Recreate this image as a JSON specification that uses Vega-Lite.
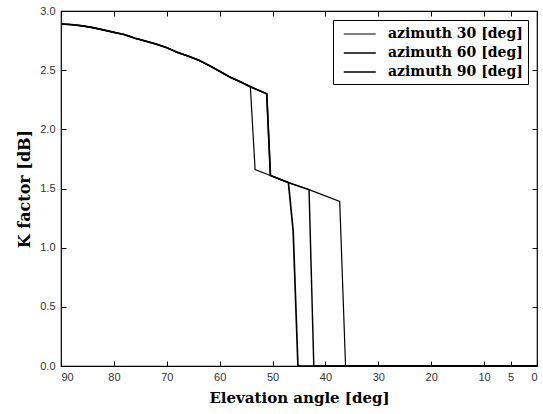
{
  "$schema": "https://vega.github.io/schema/vega-lite/v6.json",
  "autosize": "none",
  "width": 476,
  "height": 355,
  "padding": {"left": 61, "top": 11, "right": 6, "bottom": 48},
  "background": "white",
  "config": {
    "view": {"stroke": "black", "strokeWidth": 1.2},
    "axis": {
      "grid": false,
      "domain": false,
      "tickColor": "black",
      "tickSize": -5,
      "labelFont": "Liberation Sans",
      "labelFontSize": 11,
      "labelColor": "#333333",
      "titleFont": "DejaVu Serif",
      "titleFontSize": 16,
      "titleFontWeight": "bold",
      "titleColor": "black"
    }
  },
  "data": {
    "values": [
      {"az": "azimuth 30 [deg]", "angle": 90, "k": 2.89},
      {"az": "azimuth 30 [deg]", "angle": 88, "k": 2.885},
      {"az": "azimuth 30 [deg]", "angle": 86, "k": 2.875},
      {"az": "azimuth 30 [deg]", "angle": 84, "k": 2.86},
      {"az": "azimuth 30 [deg]", "angle": 82, "k": 2.84},
      {"az": "azimuth 30 [deg]", "angle": 80, "k": 2.82},
      {"az": "azimuth 30 [deg]", "angle": 78, "k": 2.8},
      {"az": "azimuth 30 [deg]", "angle": 76, "k": 2.77},
      {"az": "azimuth 30 [deg]", "angle": 74, "k": 2.745},
      {"az": "azimuth 30 [deg]", "angle": 72, "k": 2.72},
      {"az": "azimuth 30 [deg]", "angle": 70, "k": 2.69},
      {"az": "azimuth 30 [deg]", "angle": 68, "k": 2.65},
      {"az": "azimuth 30 [deg]", "angle": 66, "k": 2.62},
      {"az": "azimuth 30 [deg]", "angle": 64, "k": 2.585},
      {"az": "azimuth 30 [deg]", "angle": 62, "k": 2.54},
      {"az": "azimuth 30 [deg]", "angle": 60, "k": 2.49},
      {"az": "azimuth 30 [deg]", "angle": 58, "k": 2.44},
      {"az": "azimuth 30 [deg]", "angle": 56, "k": 2.4},
      {"az": "azimuth 30 [deg]", "angle": 54.2, "k": 2.36},
      {"az": "azimuth 30 [deg]", "angle": 53.3, "k": 1.66},
      {"az": "azimuth 30 [deg]", "angle": 50.4, "k": 1.61},
      {"az": "azimuth 30 [deg]", "angle": 47.0, "k": 1.55},
      {"az": "azimuth 30 [deg]", "angle": 43.1, "k": 1.49},
      {"az": "azimuth 30 [deg]", "angle": 37.3, "k": 1.39},
      {"az": "azimuth 30 [deg]", "angle": 36.2, "k": 0},
      {"az": "azimuth 30 [deg]", "angle": 0, "k": 0},
      {"az": "azimuth 60 [deg]", "angle": 90, "k": 2.89},
      {"az": "azimuth 60 [deg]", "angle": 88, "k": 2.885},
      {"az": "azimuth 60 [deg]", "angle": 86, "k": 2.875},
      {"az": "azimuth 60 [deg]", "angle": 84, "k": 2.86},
      {"az": "azimuth 60 [deg]", "angle": 82, "k": 2.84},
      {"az": "azimuth 60 [deg]", "angle": 80, "k": 2.82},
      {"az": "azimuth 60 [deg]", "angle": 78, "k": 2.8},
      {"az": "azimuth 60 [deg]", "angle": 76, "k": 2.77},
      {"az": "azimuth 60 [deg]", "angle": 74, "k": 2.745},
      {"az": "azimuth 60 [deg]", "angle": 72, "k": 2.72},
      {"az": "azimuth 60 [deg]", "angle": 70, "k": 2.69},
      {"az": "azimuth 60 [deg]", "angle": 68, "k": 2.65},
      {"az": "azimuth 60 [deg]", "angle": 66, "k": 2.62},
      {"az": "azimuth 60 [deg]", "angle": 64, "k": 2.585},
      {"az": "azimuth 60 [deg]", "angle": 62, "k": 2.54},
      {"az": "azimuth 60 [deg]", "angle": 60, "k": 2.49},
      {"az": "azimuth 60 [deg]", "angle": 58, "k": 2.44},
      {"az": "azimuth 60 [deg]", "angle": 56, "k": 2.4},
      {"az": "azimuth 60 [deg]", "angle": 54.2, "k": 2.36},
      {"az": "azimuth 60 [deg]", "angle": 51.1, "k": 2.3},
      {"az": "azimuth 60 [deg]", "angle": 50.4, "k": 1.61},
      {"az": "azimuth 60 [deg]", "angle": 47.0, "k": 1.55},
      {"az": "azimuth 60 [deg]", "angle": 43.1, "k": 1.49},
      {"az": "azimuth 60 [deg]", "angle": 42.2, "k": 0},
      {"az": "azimuth 60 [deg]", "angle": 0, "k": 0},
      {"az": "azimuth 90 [deg]", "angle": 90, "k": 2.89},
      {"az": "azimuth 90 [deg]", "angle": 88, "k": 2.885},
      {"az": "azimuth 90 [deg]", "angle": 86, "k": 2.875},
      {"az": "azimuth 90 [deg]", "angle": 84, "k": 2.86},
      {"az": "azimuth 90 [deg]", "angle": 82, "k": 2.84},
      {"az": "azimuth 90 [deg]", "angle": 80, "k": 2.82},
      {"az": "azimuth 90 [deg]", "angle": 78, "k": 2.8},
      {"az": "azimuth 90 [deg]", "angle": 76, "k": 2.77},
      {"az": "azimuth 90 [deg]", "angle": 74, "k": 2.745},
      {"az": "azimuth 90 [deg]", "angle": 72, "k": 2.72},
      {"az": "azimuth 90 [deg]", "angle": 70, "k": 2.69},
      {"az": "azimuth 90 [deg]", "angle": 68, "k": 2.65},
      {"az": "azimuth 90 [deg]", "angle": 66, "k": 2.62},
      {"az": "azimuth 90 [deg]", "angle": 64, "k": 2.585},
      {"az": "azimuth 90 [deg]", "angle": 62, "k": 2.54},
      {"az": "azimuth 90 [deg]", "angle": 60, "k": 2.49},
      {"az": "azimuth 90 [deg]", "angle": 58, "k": 2.44},
      {"az": "azimuth 90 [deg]", "angle": 56, "k": 2.4},
      {"az": "azimuth 90 [deg]", "angle": 54.2, "k": 2.36},
      {"az": "azimuth 90 [deg]", "angle": 51.1, "k": 2.3},
      {"az": "azimuth 90 [deg]", "angle": 50.4, "k": 1.61},
      {"az": "azimuth 90 [deg]", "angle": 47.0, "k": 1.55},
      {"az": "azimuth 90 [deg]", "angle": 46.1, "k": 1.14},
      {"az": "azimuth 90 [deg]", "angle": 45.2, "k": 0},
      {"az": "azimuth 90 [deg]", "angle": 0, "k": 0}
    ]
  },
  "layer": [
    {
      "mark": {"type": "line", "color": "black", "strokeJoin": "miter"},
      "encoding": {
        "x": {
          "field": "angle", "type": "quantitative",
          "scale": {"domain": [0, 90], "reverse": true, "nice": false},
          "axis": {"values": [90, 80, 70, 60, 50, 40, 30, 20, 10, 5, 0], "title": "Elevation angle [deg]", "titleFontSize": 15, "labelPadding": 10, "titlePadding": 8}
        },
        "y": {
          "field": "k", "type": "quantitative",
          "scale": {"domain": [0, 3], "nice": false},
          "axis": {"values": [0, 0.5, 1, 1.5, 2, 2.5, 3], "title": "K factor [dB]", "labelPadding": 11, "titlePadding": 7}
        },
        "strokeWidth": {
          "field": "az", "type": "nominal",
          "scale": {"domain": ["azimuth 30 [deg]", "azimuth 60 [deg]", "azimuth 90 [deg]"], "range": [1.2, 1.7, 2.6]},
          "legend": {
            "title": null,
            "orient": "none",
            "legendX": 272,
            "legendY": 9,
            "direction": "vertical",
            "symbolType": "M-0.4,0H3.6",
            "symbolStrokeColor": "black",
            "symbolFillColor": "transparent",
            "symbolSize": 256,
            "labelFont": "DejaVu Serif",
            "labelFontSize": 14,
            "labelFontWeight": "bold",
            "labelColor": "black",
            "labelOffset": 32,
            "rowPadding": 3,
            "strokeColor": "black",
            "fillColor": "white",
            "padding": 5,
            "cornerRadius": 0
          }
        }
      }
    },
    {
      "mark": {"type": "line", "opacity": 0},
      "encoding": {
        "x": {"field": "angle", "type": "quantitative", "axis": {"orient": "top", "values": [90, 80, 70, 60, 50, 40, 30, 20, 10, 5, 0], "labels": false, "title": null}},
        "y": {"field": "k", "type": "quantitative", "axis": {"orient": "right", "values": [0, 0.5, 1, 1.5, 2, 2.5, 3], "labels": false, "title": null}},
        "detail": {"field": "az"}
      }
    }
  ],
  "resolve": {"axis": {"x": "independent", "y": "independent"}}
}
